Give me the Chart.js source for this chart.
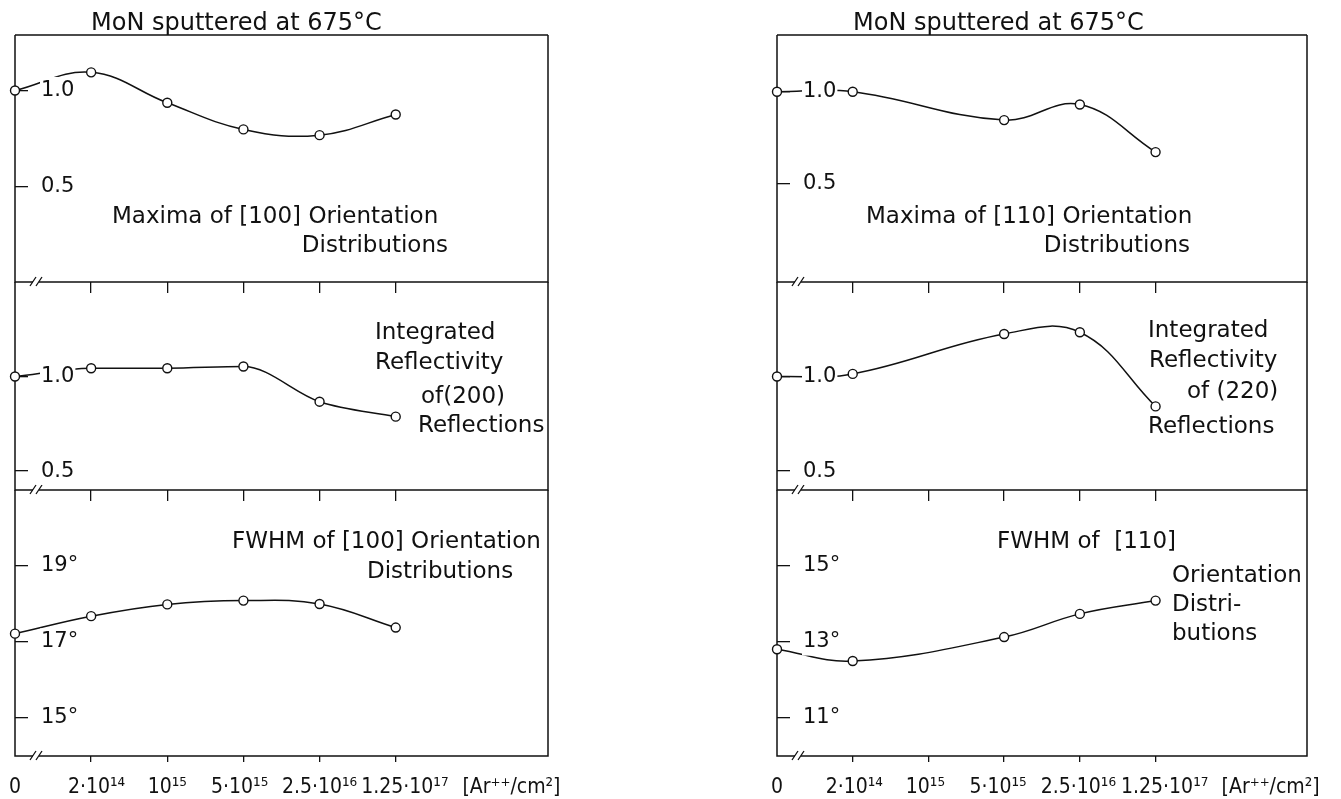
<!DOCTYPE html>
<html>
<head>
<meta charset="utf-8">
<title>MoN sputtered at 675°C</title>
<script src="https://cdn.jsdelivr.net/npm/chart.js@4.4.0/dist/chart.umd.min.js"></script>
<style>
  html, body { margin: 0; padding: 0; background: #fff; }
  #page { position: relative; width: 1341px; height: 799px; overflow: hidden; background: #fff; }
  #page canvas { position: absolute; }
  .txt { position: absolute; font-family: "DejaVu Sans", sans-serif; color: #111; white-space: pre; line-height: 1; }
</style>
</head>
<body>
<div id="page"></div>
<script>
(function () {
    'use strict';

    // Ar++ doses, one x index per dose
    const doseLabels = ['0', '2·10¹⁴', '10¹⁵', '5·10¹⁵', '2.5·10¹⁶', '1.25·10¹⁷'];
    const unitLabel = '[Ar⁺⁺/cm²]';

    // Left column: [100] / (200)
    const maxima100 = [1.0, 1.095, 0.936, 0.797, 0.767, 0.875];
    const reflect200 = [1.0, 1.044, 1.044, 1.053, 0.867, 0.788];
    const fwhm100 = [17.22, 17.68, 17.99, 18.09, 18.0, 17.38];

    // Right column: [110] / (220), nothing measured at 10^15
    const maxima110 = [1.0, 1.0, null, 0.845, 0.93, 0.67];
    const reflect220 = [1.0, 1.014, null, 1.225, 1.234, 0.842];
    const fwhm110 = [12.81, 12.5, null, 13.13, 13.74, 14.09];

    // Y tick values
    const ratioTicks = [0.5, 1.0];
    const fwhmTicksLeft = [15, 17, 19];
    const fwhmTicksRight = [11, 13, 15];

    const INK = '#111';
    const PAD = 20;
    const AXIS_H = 45;   // room for the dose labels under the last row
    const page = document.getElementById('page');

    // Frame boxes (page pixels); labelAt = where each dose label is centred (axis units)
    const columns = [
        { x: 15, w: 533, labelAt: [0, 1.07, 2.0, 2.95, 4.0, 5.12, 6.52] },
        { x: 777, w: 530, labelAt: [0, 1.02, 1.96, 2.92, 3.98, 5.12, 6.52] }
    ];
    const rows = [{ top: 35, h: 247 }, { top: 282, h: 208 }, { top: 490, h: 266 }];

    const ratioFmt = v => v.toFixed(1);
    const degFmt = v => v + '°';

    const panels = [
        { col: 0, row: 0, values: maxima100, min: 0, max: 1.29, ticks: ratioTicks, fmt: ratioFmt },
        { col: 0, row: 1, values: reflect200, min: 0.4, max: 1.5, ticks: ratioTicks, fmt: ratioFmt, monotone: true },
        { col: 0, row: 2, values: fwhm100, min: 14, max: 21, ticks: fwhmTicksLeft, fmt: degFmt },
        { col: 1, row: 0, values: maxima110, min: -0.04, max: 1.31, ticks: ratioTicks, fmt: ratioFmt },
        { col: 1, row: 1, values: reflect220, min: 0.4, max: 1.5, ticks: ratioTicks, fmt: ratioFmt },
        { col: 1, row: 2, values: fwhm110, min: 10, max: 17, ticks: fwhmTicksRight, fmt: degFmt }
    ];

    // Free text: [text, x, baseline, size, align]
    const notes = [
        ['MoN sputtered at 675°C', 91, 30, 24],
        ['Maxima of [100] Orientation', 112, 223, 23],
        ['Distributions', 448, 252, 23, 'right'],
        ['Integrated', 375, 339, 23],
        ['Reflectivity', 375, 369, 23],
        ['of(200)', 421, 403, 23],
        ['Reflections', 418, 432, 23],
        ['FWHM of [100] Orientation', 232, 548, 23],
        ['Distributions', 367, 578, 23],
        ['MoN sputtered at 675°C', 853, 30, 24],
        ['Maxima of [110] Orientation', 866, 223, 23],
        ['Distributions', 1190, 252, 23, 'right'],
        ['Integrated', 1148, 337, 23],
        ['Reflectivity', 1149, 367, 23],
        ['of (220)', 1187, 398, 23],
        ['Reflections', 1148, 433, 23],
        ['FWHM of  [110]', 997, 548, 23],
        ['Orientation', 1172, 582, 23],
        ['Distri-', 1172, 611, 23],
        ['butions', 1172, 640, 23]
    ];

    Chart.defaults.font.family = '"DejaVu Sans", sans-serif';
    Chart.defaults.color = INK;

    // Scales take no room: the chart area is exactly the padded box
    function zeroFit(s) {
        if (s.isHorizontal()) s.height = 0; else s.width = 0;
        s.paddingTop = s.paddingBottom = s.paddingLeft = s.paddingRight = 0;
    }

    // Frame and "//" axis break, drawn under the curve
    const framePlugin = {
        id: 'frame',
        beforeDatasetsDraw(chart, args, opts) {
            const { ctx, chartArea: a } = chart;
            ctx.save();
            ctx.strokeStyle = INK;
            ctx.lineWidth = 1.5;
            ctx.beginPath();
            if (opts.top) {
                ctx.moveTo(a.left, a.top);
                ctx.lineTo(a.right, a.top);
            }
            ctx.moveTo(a.left, a.top);
            ctx.lineTo(a.left, a.bottom);
            ctx.lineTo(a.right, a.bottom);
            ctx.lineTo(a.right, a.top);
            ctx.stroke();

            const bx = a.left + 17, by = a.bottom;
            ctx.fillStyle = '#fff';
            ctx.fillRect(bx + 1, by - 2, 6, 4);
            ctx.lineWidth = 1.3;
            ctx.beginPath();
            ctx.moveTo(bx - 2, by + 4); ctx.lineTo(bx + 4, by - 5);
            ctx.moveTo(bx + 4, by + 4); ctx.lineTo(bx + 10, by - 5);
            ctx.stroke();
            ctx.restore();
        }
    };

    function initPanel(p) {
        const col = columns[p.col];
        const row = rows[p.row];
        const isTop = p.row === 0;
        const isBottom = p.row === rows.length - 1;
        const padBottom = isBottom ? 10 : PAD;

        const canvas = document.createElement('canvas');
        const w = col.w + 2 * PAD;
        const h = row.h + PAD + padBottom + (isBottom ? AXIS_H : 0);
        canvas.width = w;
        canvas.height = h;
        canvas.style.width = w + 'px';
        canvas.style.height = h + 'px';
        canvas.style.left = (col.x - PAD) + 'px';
        canvas.style.top = (row.top - PAD) + 'px';
        page.appendChild(canvas);

        const points = p.values.map((v, i) => ({ x: i, y: v }));
        const bottomLabels = doseLabels.concat([unitLabel]);

        return new Chart(canvas, {
            type: 'line',
            data: {
                datasets: [{
                    data: points,
                    borderColor: INK,
                    borderWidth: 1.5,
                    tension: 0.4,
                    cubicInterpolationMode: p.monotone ? 'monotone' : 'default',
                    spanGaps: true,
                    clip: false,
                    pointRadius: 4.5,
                    pointBackgroundColor: '#fff',
                    pointBorderColor: INK,
                    pointBorderWidth: 1.4
                }]
            },
            options: {
                responsive: false,
                animation: false,
                devicePixelRatio: 1,
                layout: { padding: { left: PAD, right: PAD, top: PAD, bottom: padBottom } },
                plugins: {
                    legend: { display: false },
                    tooltip: { enabled: false },
                    frame: { top: isTop }
                },
                scales: {
                    // dose tick marks under the last row
                    x: {
                        type: 'linear',
                        position: 'bottom',
                        weight: 0,
                        min: 0,
                        max: 7,
                        afterFit: zeroFit,
                        afterBuildTicks: s => { s.ticks = (isBottom ? [1, 2, 3, 4, 5] : []).map(v => ({ value: v })); },
                        ticks: { display: false },
                        grid: { display: isBottom, drawOnChartArea: false, tickLength: 6, lineWidth: 1.3, color: INK },
                        border: { display: false }
                    },
                    // dose labels
                    xLab: {
                        type: 'linear',
                        position: 'bottom',
                        weight: 1,
                        min: 0,
                        max: 7,
                        display: isBottom,
                        afterFit: s => { zeroFit(s); if (isBottom) s.height = AXIS_H; },
                        afterBuildTicks: s => { s.ticks = col.labelAt.map(v => ({ value: v })); },
                        ticks: {
                            autoSkip: false,
                            maxRotation: 0,
                            padding: 11,
                            font: { size: 21, family: '"DejaVu Sans Condensed", "Liberation Sans Narrow", "DejaVu Sans", sans-serif' },
                            callback: (v, i) => bottomLabels[i]
                        },
                        grid: { display: false },
                        border: { display: false }
                    },
                    xTop: {
                        type: 'linear',
                        position: 'top',
                        min: 0,
                        max: 7,
                        display: !isTop,
                        afterFit: zeroFit,
                        afterBuildTicks: s => { s.ticks = [1, 2, 3, 4, 5].map(v => ({ value: v })); },
                        ticks: { display: false },
                        grid: { drawOnChartArea: false, tickLength: -11, lineWidth: 1.3, color: INK },
                        border: { display: false }
                    },
                    y: {
                        type: 'linear',
                        position: 'left',
                        min: p.min,
                        max: p.max,
                        afterFit: zeroFit,
                        afterBuildTicks: s => { s.ticks = p.ticks.map(v => ({ value: v })); },
                        ticks: {
                            mirror: true,
                            padding: 26,
                            font: { size: 21 },
                            callback: v => p.fmt(v),
                            showLabelBackdrop: true,
                            backdropColor: '#fff',
                            backdropPadding: 1,
                            z: 1
                        },
                        grid: { drawOnChartArea: false, tickLength: -13, lineWidth: 1.3, color: INK },
                        border: { display: false }
                    }
                }
            },
            plugins: [framePlugin]
        });
    }

    function placeNotes() {
        notes.forEach(([text, x, base, size, align]) => {
            const d = document.createElement('div');
            d.className = 'txt';
            d.textContent = text;
            d.style.fontSize = size + 'px';
            d.style.left = x + 'px';
            d.style.top = (base - 0.846 * size) + 'px';
            if (align === 'right') d.style.transform = 'translateX(-100%)';
            page.appendChild(d);
        });
    }

    panels.forEach(initPanel);
    placeNotes();
})();
</script>
</body>
</html>
